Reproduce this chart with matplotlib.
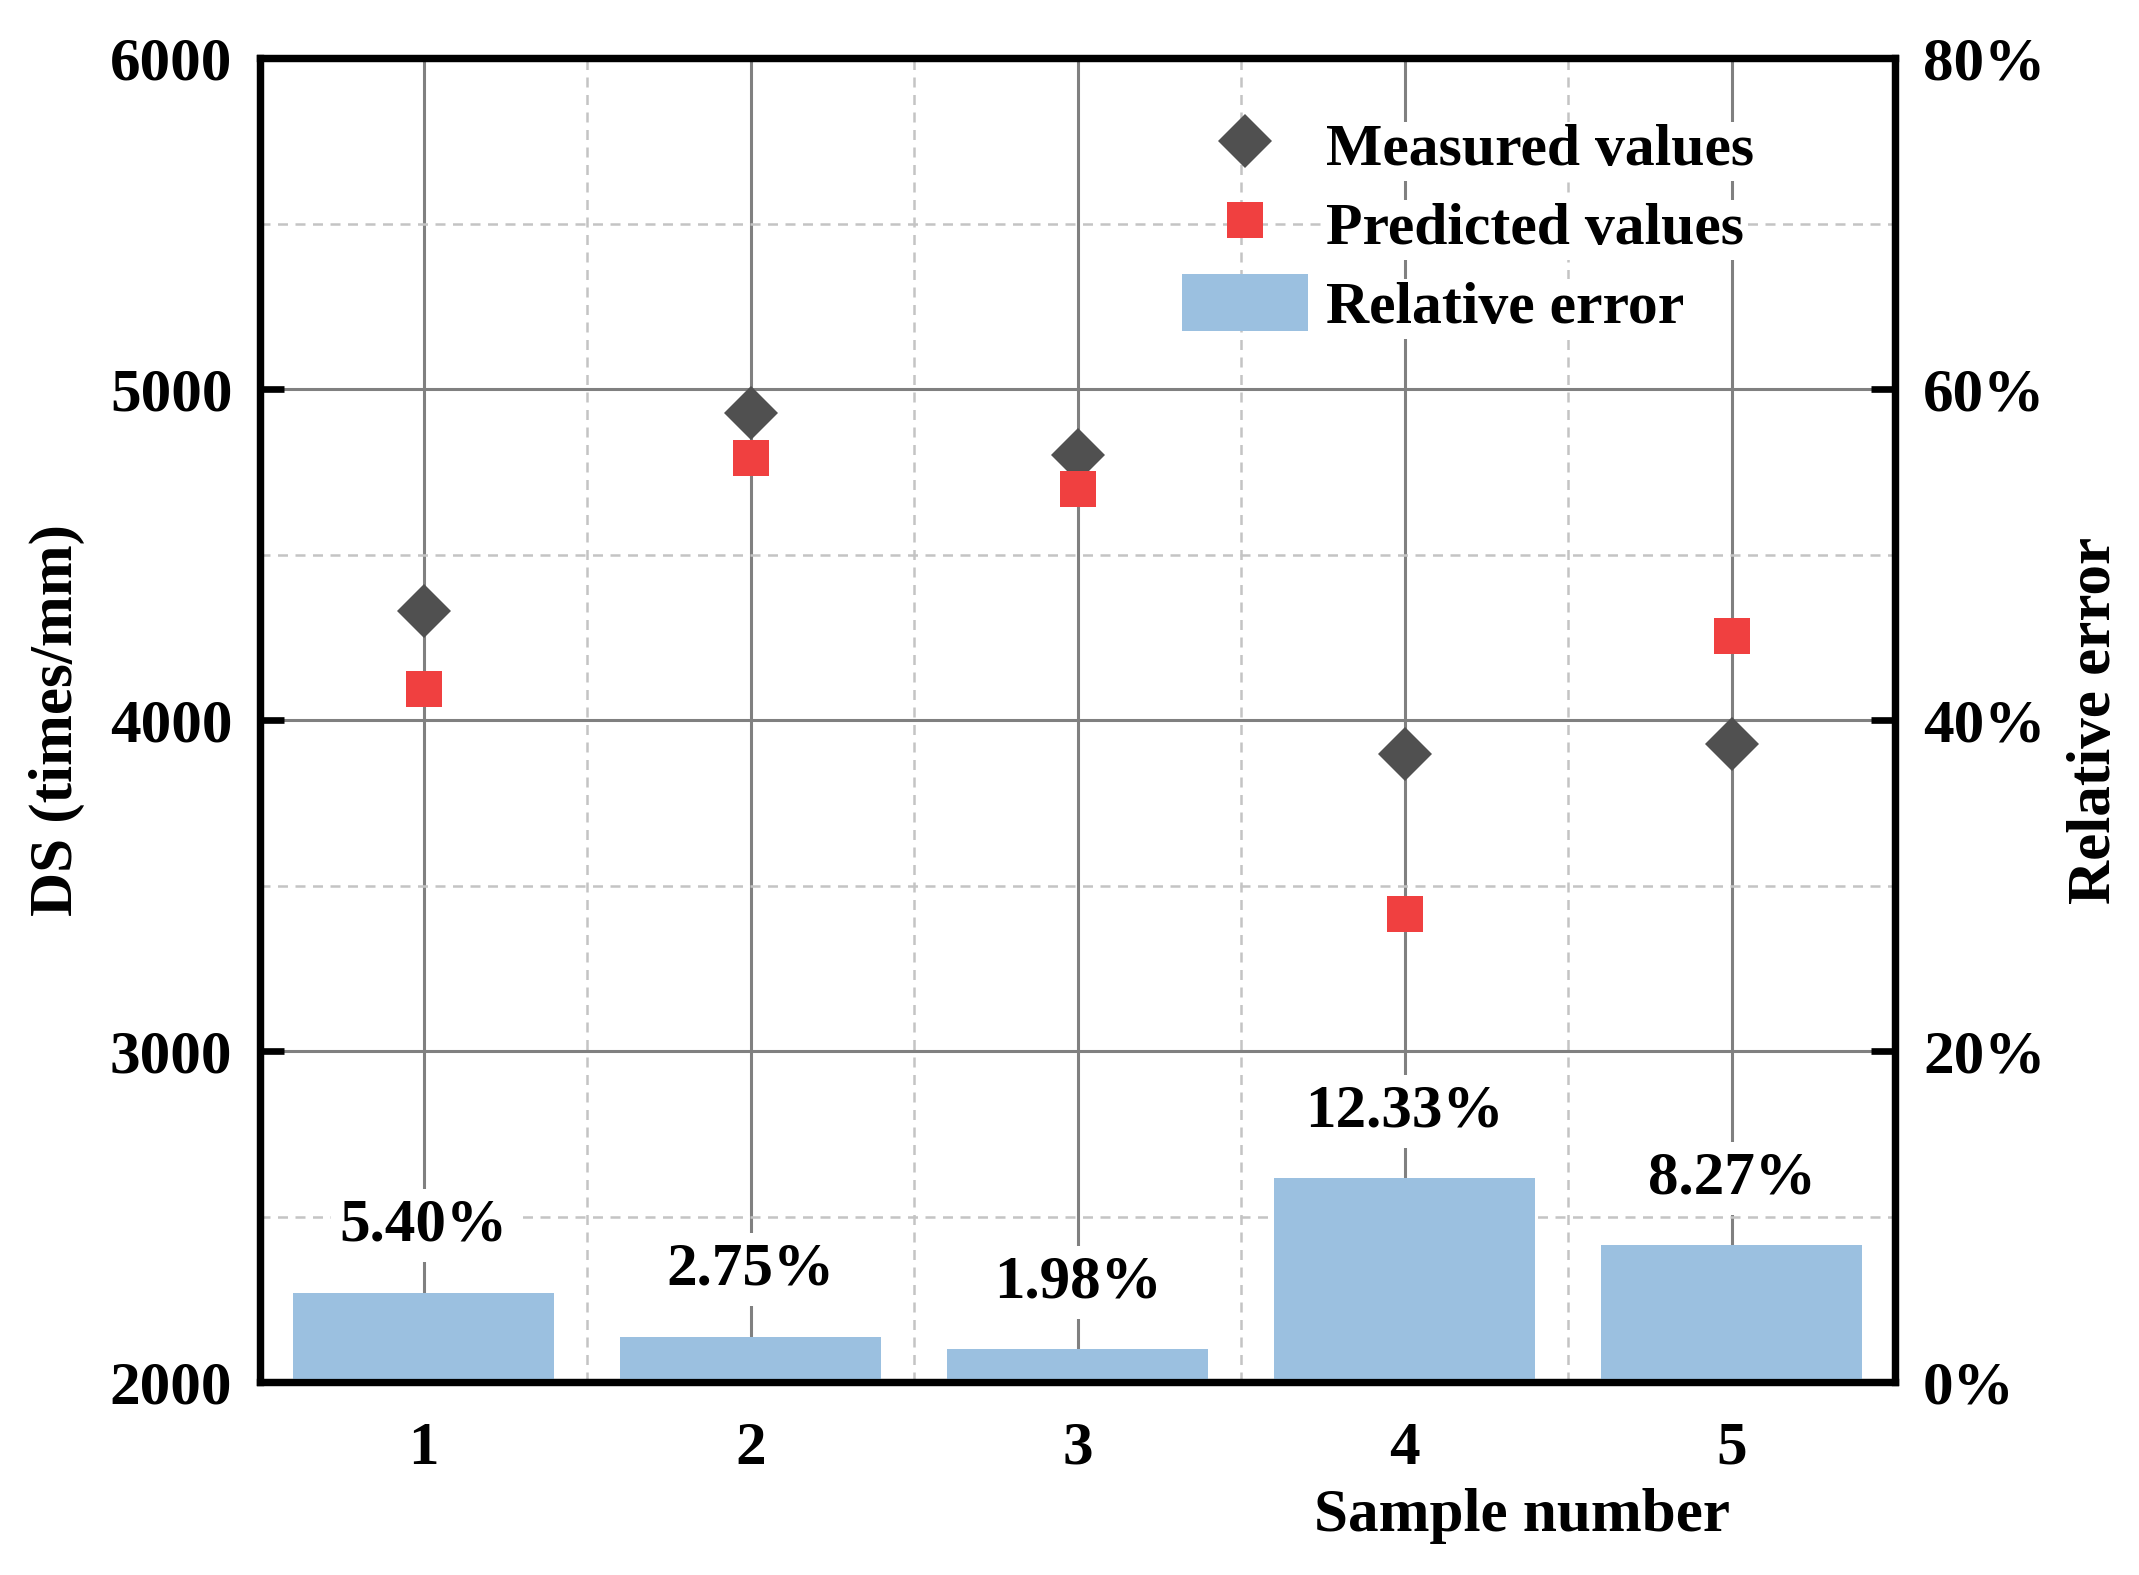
import matplotlib
matplotlib.use('Agg')
import matplotlib.pyplot as plt
import numpy as np
from matplotlib.ticker import MultipleLocator, PercentFormatter
from matplotlib.lines import Line2D
from matplotlib.patches import Patch

plt.rcParams['font.family'] = ['Liberation Serif', 'DejaVu Serif']
plt.rcParams['font.weight'] = 'bold'
plt.rcParams['axes.labelweight'] = 'bold'

# data
samples = [1, 2, 3, 4, 5]
measured = [4329, 4929, 4800, 3899, 3928]
predicted = [4093, 4792, 4697, 3415, 4254]
rel_error = [5.40, 2.75, 1.98, 12.33, 8.27]
err_labels = ['5.40%', '2.75%', '1.98%', '12.33%', '8.27%']

c_meas = '#505050'
c_pred = '#F04040'
c_bar = '#9BC0E0'
fs = 22

fig = plt.figure(figsize=(10.695, 7.875), dpi=200)
ax = fig.add_axes([0.1216, 0.1225, 0.7644, 0.8405])
ax2 = ax.twinx()

# grid on the main axes, below everything
ax.set_axisbelow(True)
ax.xaxis.set_minor_locator(MultipleLocator(0.5))
ax.yaxis.set_minor_locator(MultipleLocator(500))
ax.grid(which='major', color='#808080', lw=1.1, ls='-')
ax.grid(which='minor', color='#C4C4C4', lw=0.9, ls=(0, (4, 3)))

ax.plot(samples, measured, 'D', color=c_meas, ms=13.5, mew=0, zorder=3)
ax.plot(samples, predicted, 's', color=c_pred, ms=13.3, mew=0, zorder=3)

ax2.bar(samples, rel_error, width=0.8, color=c_bar, zorder=2)
for x, v, s in zip(samples, rel_error, err_labels):
    ax2.annotate(s, (x, v), xytext=(0, 14), textcoords='offset points',
                 ha='center', va='bottom', fontsize=fs, fontweight='bold',
                 bbox=dict(facecolor='white', edgecolor='none', pad=3), zorder=4)

ax.set_xlim(0.5, 5.5)
ax.set_ylim(2000, 6000)
ax2.set_ylim(0, 80)
ax.set_xticks(samples)
ax.set_yticks([2000, 3000, 4000, 5000, 6000])
ax2.set_yticks([0, 20, 40, 60, 80])
ax2.yaxis.set_major_formatter(PercentFormatter(xmax=100, decimals=0))

ax.tick_params(axis='y', which='major', direction='in', length=8.5, width=2.4,
               labelsize=fs, pad=10)
ax.tick_params(axis='both', which='minor', length=0)
ax.tick_params(axis='x', which='major', length=0, labelsize=fs, pad=14)
ax2.tick_params(axis='y', which='major', direction='in', length=8.5, width=2.4,
                labelsize=fs, pad=10)
ax2.tick_params(axis='y', which='minor', length=0)

for a in (ax, ax2):
    for sp in a.spines.values():
        sp.set_linewidth(2.6)
        sp.set_color('black')

ax.set_ylabel('DS (times/mm)', fontsize=fs, fontweight='bold')
ax.yaxis.set_label_coords(-0.107, 0.5)
ax.set_xlabel('Sample number', fontsize=fs, fontweight='bold')
ax.xaxis.set_label_coords(0.772, -0.08)
ax2.set_ylabel('Relative error', fontsize=fs, fontweight='bold')
ax2.yaxis.set_label_coords(1.105, 0.5)

handles = [Line2D([], [], marker='D', ls='none', color=c_meas, ms=13.5, mew=0),
           Line2D([], [], marker='s', ls='none', color=c_pred, ms=13.3, mew=0),
           Patch(facecolor=c_bar, edgecolor='none')]
labels = ['Measured values', 'Predicted values', 'Relative error']
leg = ax2.legend(handles, labels, loc='upper left', bbox_to_anchor=(0.564, 0.956),
                 borderaxespad=0, borderpad=0, frameon=False,
                 handlelength=2.1, handleheight=1.1, handletextpad=0.3,
                 labelspacing=0.28, prop={'size': 21.5, 'weight': 'bold'})
for t in leg.get_texts():
    t.set_bbox(dict(facecolor='white', edgecolor='none', pad=1))

fig.savefig('out.png', dpi=200)
